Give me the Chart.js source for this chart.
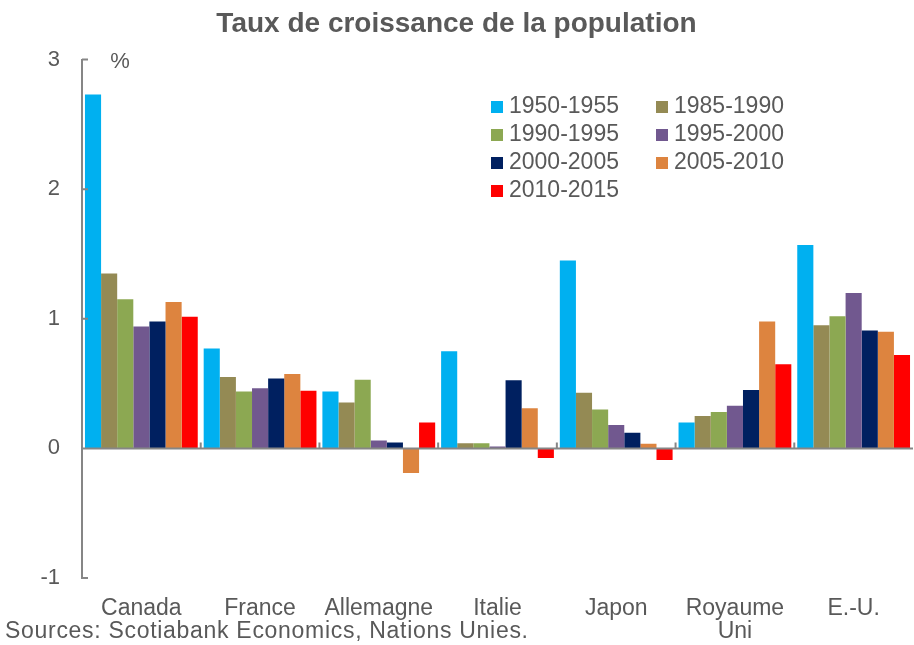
<!DOCTYPE html>
<html>
<head>
<meta charset="utf-8">
<script src="https://cdn.jsdelivr.net/npm/chart.js@4"></script>
<style>
  html, body { margin: 0; padding: 0; background: #fff; }
</style>
</head>
<body>
<canvas id="chart" width="914" height="645"></canvas>
<script>
// données (taux de croissance annuel moyen, %)
const pays = ['Canada', 'France', 'Allemagne', 'Italie', 'Japon', ['Royaume', 'Uni'], 'E.-U.'];
const periodes = ['1950-1955', '1985-1990', '1990-1995', '1995-2000', '2000-2005', '2005-2010', '2010-2015'];
const couleurs = ['#00B0F0', '#948A54', '#8CA852', '#71588F', '#002060', '#DD843F', '#FF0000'];

const t1950 = [2.73, 0.77, 0.44, 0.75, 1.45, 0.20, 1.57];
const t1985 = [1.35, 0.55, 0.355, 0.04, 0.43, 0.25, 0.95];
const t1990 = [1.15, 0.44, 0.53, 0.04, 0.30, 0.28, 1.02];
const t1995 = [0.94, 0.465, 0.06, 0.015, 0.18, 0.33, 1.20];
const t2000 = [0.98, 0.54, 0.045, 0.525, 0.12, 0.45, 0.91];
const t2005 = [1.13, 0.575, -0.19, 0.31, 0.035, 0.98, 0.90];
const t2010 = [1.015, 0.445, 0.20, -0.075, -0.09, 0.65, 0.72];

const yMin = -1, yMax = 3, yStep = 1;

const FONT = "'Liberation Sans', Arial, sans-serif";
const GRIS = '#595959';
const AXE = '#868686';

const series = [t1950, t1985, t1990, t1995, t2000, t2005, t2010];

// axe du zéro, petites graduations, légende, sources
const decor = {
  id: 'decor',
  afterDatasetsDraw(chart) {
    const ctx = chart.ctx;
    const area = chart.chartArea;
    const x = chart.scales.x, y = chart.scales.y;
    const y0 = y.getPixelForValue(0);

    ctx.save();
    ctx.strokeStyle = AXE;
    ctx.lineWidth = 2;
    ctx.beginPath();
    ctx.moveTo(area.left, y0);
    ctx.lineTo(area.right, y0);
    y.ticks.forEach(t => {
      const py = y.getPixelForValue(t.value);
      ctx.moveTo(area.left, py);
      ctx.lineTo(area.left + 6, py);
    });
    for (let i = 1; i < pays.length; i++) {
      const px = (x.getPixelForValue(i - 1) + x.getPixelForValue(i)) / 2;
      ctx.moveTo(px, y0);
      ctx.lineTo(px, y0 - 6);
    }
    ctx.stroke();

    // légende sur deux colonnes
    ctx.font = '23px ' + FONT;
    ctx.textBaseline = 'middle';
    ctx.textAlign = 'left';
    chart.data.datasets.forEach((ds, i) => {
      const col = i % 2, row = Math.floor(i / 2);
      const lx = col === 0 ? 491 : 656;
      const ly = 107 + row * 28;
      ctx.fillStyle = ds.backgroundColor;
      ctx.fillRect(lx, ly - 6, 12, 12);
      ctx.fillStyle = GRIS;
      ctx.fillText(ds.label, lx + 18, ly);
    });

    ctx.font = '22px ' + FONT;
    ctx.textAlign = 'center';
    ctx.fillText('%', 120, 62);

    ctx.font = '23px ' + FONT;
    ctx.textAlign = 'left';
    ctx.letterSpacing = '0.7px';
    ctx.fillText('Sources: Scotiabank Economics, Nations Unies.', 5, 632);
    ctx.letterSpacing = '0px';
    ctx.restore();
  }
};

const ctx = document.getElementById('chart').getContext('2d');

new Chart(ctx, {
  type: 'bar',
  data: {
    labels: pays,
    datasets: periodes.map((p, i) => ({
      label: p,
      data: series[i],
      backgroundColor: couleurs[i],
      borderWidth: 0,
      barPercentage: 1,
      categoryPercentage: 0.95
    }))
  },
  options: {
    responsive: false,
    animation: false,
    layout: { padding: { left: 0, right: 1, top: 0, bottom: 0 } },
    plugins: {
      legend: { display: false },
      tooltip: { enabled: false },
      title: {
        display: true,
        text: 'Taux de croissance de la population',
        color: GRIS,
        font: { family: FONT, size: 28, weight: 'bold' },
        padding: { top: 7, bottom: 19 }
      }
    },
    scales: {
      x: {
        grid: { display: false, drawTicks: false },
        border: { display: false },
        ticks: {
          color: GRIS,
          font: { family: FONT, size: 23, lineHeight: 1.0 },
          padding: 19,
          maxRotation: 0,
          autoSkip: false
        },
        afterFit(scale) { scale.height = 67; }
      },
      y: {
        min: yMin,
        max: yMax,
        ticks: {
          stepSize: yStep,
          color: GRIS,
          font: { family: FONT, size: 22 },
          padding: 22
        },
        grid: { display: false, drawTicks: false },
        border: { display: true, color: AXE, width: 2 },
        afterFit(scale) { scale.width = 82; }
      }
    }
  },
  plugins: [decor]
});
</script>
</body>
</html>
